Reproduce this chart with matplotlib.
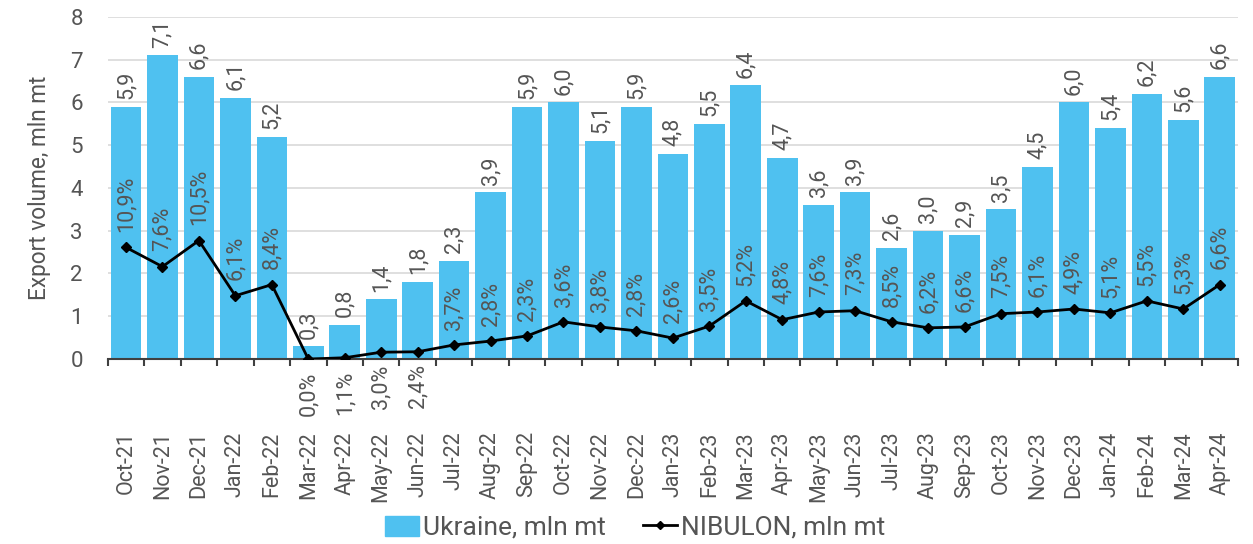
import numpy as np
import matplotlib
matplotlib.use("Agg")
import matplotlib.pyplot as plt
from matplotlib.lines import Line2D
from matplotlib.patches import Patch

plt.rcParams['font.family'] = ['Roboto', 'DejaVu Sans']

months = ["Oct-21", "Nov-21", "Dec-21", "Jan-22", "Feb-22", "Mar-22", "Apr-22", "May-22",
          "Jun-22", "Jul-22", "Aug-22", "Sep-22", "Oct-22", "Nov-22", "Dec-22", "Jan-23",
          "Feb-23", "Mar-23", "Apr-23", "May-23", "Jun-23", "Jul-23", "Aug-23", "Sep-23",
          "Oct-23", "Nov-23", "Dec-23", "Jan-24", "Feb-24", "Mar-24", "Apr-24"]
ukraine = [5.9, 7.1, 6.6, 6.1, 5.2, 0.3, 0.8, 1.4, 1.8, 2.3, 3.9, 5.9, 6.0, 5.1, 5.9, 4.8,
           5.5, 6.4, 4.7, 3.6, 3.9, 2.6, 3.0, 2.9, 3.5, 4.5, 6.0, 5.4, 6.2, 5.6, 6.6]
nibulon = [2.61, 2.16, 2.77, 1.48, 1.74, 0.0, 0.03, 0.16, 0.17, 0.33, 0.42, 0.54, 0.87, 0.75,
           0.66, 0.49, 0.77, 1.36, 0.92, 1.10, 1.13, 0.87, 0.73, 0.75, 1.06, 1.10, 1.17, 1.08,
           1.36, 1.17, 1.74]
share = [10.9, 7.6, 10.5, 6.1, 8.4, 0.0, 1.1, 3.0, 2.4, 3.7, 2.8, 2.3, 3.6, 3.8, 2.8, 2.6,
         3.5, 5.2, 4.8, 7.6, 7.3, 8.5, 6.2, 6.6, 7.5, 6.1, 4.9, 5.1, 5.5, 5.3, 6.6]
below = ["Mar-22", "Apr-22", "May-22", "Jun-22"]

txt = "#555555"
bar_col = "#4FC1F0"

fig = plt.figure(figsize=(12.53, 5.44), dpi=100)
ax = fig.add_axes([0.086, 0.340, 0.902, 0.629])

x = np.arange(len(months))
ax.bar(x, ukraine, width=0.84, color=bar_col, zorder=2)
ax.plot(x, nibulon, color="black", lw=2, marker="D", ms=5, zorder=3)

for i in range(len(months)):
    ax.annotate(f"{ukraine[i]:.1f}".replace(".", ","), (x[i], ukraine[i]),
                xytext=(0, 5.5), textcoords="offset points", rotation=90,
                ha="center", va="bottom", fontsize=15.5, color=txt, zorder=4)
    lab = f"{share[i]:.1f}%".replace(".", ",")
    if months[i] in below:
        ax.annotate(lab, (x[i], nibulon[i]), xytext=(0, -9), textcoords="offset points",
                    rotation=90, ha="center", va="top", fontsize=15.5, color=txt, zorder=4)
    else:
        ax.annotate(lab, (x[i], nibulon[i]), xytext=(0, 11), textcoords="offset points",
                    rotation=90, ha="center", va="bottom", fontsize=15.5, color=txt, zorder=4)

ax.set_xlim(-0.5, len(months) - 0.5)
ax.set_ylim(0, 8)
ax.set_yticks(range(0, 9))
ax.yaxis.grid(True, color="#d9d9d9", lw=1.2, zorder=0)
ax.tick_params(axis="y", length=0, labelsize=16, labelcolor=txt, pad=18)
ax.set_ylabel("Export volume, mln mt", fontsize=16.3, color=txt, labelpad=14)

ax.set_xticks(x)
ax.set_xticklabels(months, rotation=90, fontsize=15.5, color=txt, va="top")
ax.tick_params(axis="x", length=0, pad=52)
ax.set_xticks(np.arange(-0.5, len(months)), minor=True)
ax.tick_params(axis="x", which="minor", length=5, width=1.5, color="#404040")

for s in ["left", "right", "top"]:
    ax.spines[s].set_visible(False)
ax.spines["bottom"].set_color("#404040")
ax.spines["bottom"].set_linewidth(1.5)

handles = [Patch(color=bar_col, label="Ukraine, mln mt"),
           Line2D([], [], color="black", lw=2, marker="D", ms=4, label="NIBULON, mln mt")]
fig.legend(handles=handles, loc="center", bbox_to_anchor=(0.507, 0.03), ncol=2, frameon=False,
           fontsize=19, labelcolor=txt, handlelength=1.3, handleheight=0.8,
           handletextpad=0.15, columnspacing=1.4)

fig.savefig("out.png", dpi=100)
